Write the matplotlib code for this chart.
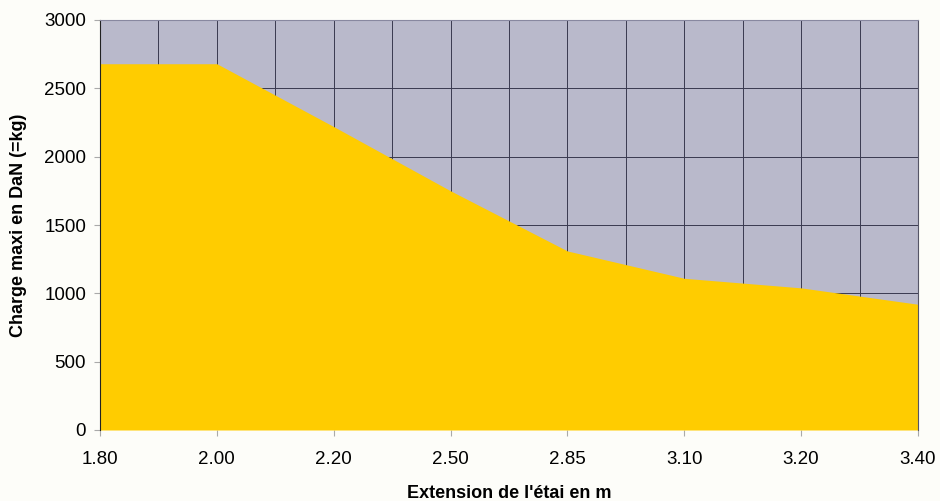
import matplotlib
matplotlib.use("Agg")
import matplotlib.pyplot as plt
import numpy as np

categories = ["1.80", "2.00", "2.20", "2.50", "2.85", "3.10", "3.20", "3.40"]
charge = [2680, 2680, 2220, 1750, 1310, 1110, 1040, 920]
yticks = [0, 500, 1000, 1500, 2000, 2500, 3000]

plt.rcParams['font.family'] = ['Liberation Sans', 'DejaVu Sans']

fig = plt.figure(figsize=(9.4, 5.01), dpi=100, facecolor="#fdfdf9")
ax = fig.add_axes([100/940, 1-430/501, 818/940, 410/501])
ax.set_facecolor("#b9b9cb")

x = np.arange(len(categories))
ax.fill_between(x, 0, charge, color="#ffcc00", zorder=3, linewidth=0)

ax.set_xlim(0, len(categories) - 1)
ax.set_ylim(0, 3000)
ax.set_xticks(x)
ax.set_xticklabels(categories)
ax.set_xticks(np.arange(0, len(categories) - 0.9, 0.5), minor=True)
ax.set_yticks(yticks)
ax.grid(which="both", axis="x", color="#3a3a50", linewidth=0.7, zorder=1)
ax.grid(which="major", axis="y", color="#3a3a50", linewidth=0.7, zorder=1)
ax.tick_params(axis="x", which="minor", length=0)
ax.tick_params(axis="x", which="major", labelsize=13.5, length=4, pad=11, color="#aaaaaa")
ax.tick_params(axis="y", labelsize=13.5, length=4, pad=6, color="#aaaaaa")

ax.spines["top"].set_color("#8888a0")
ax.spines["right"].set_color("#555566")
ax.spines["left"].set_color("#222222")
ax.spines["bottom"].set_visible(False)
for s in ax.spines.values():
    s.set_zorder(4)

ax.set_ylabel("Charge maxi en DaN (=kg)", fontsize=13, fontweight="bold", labelpad=12)
ax.set_xlabel("Extension de l'étai en m", fontsize=13, fontweight="bold", labelpad=12)

fig.savefig("out.png", dpi=100, facecolor=fig.get_facecolor())
